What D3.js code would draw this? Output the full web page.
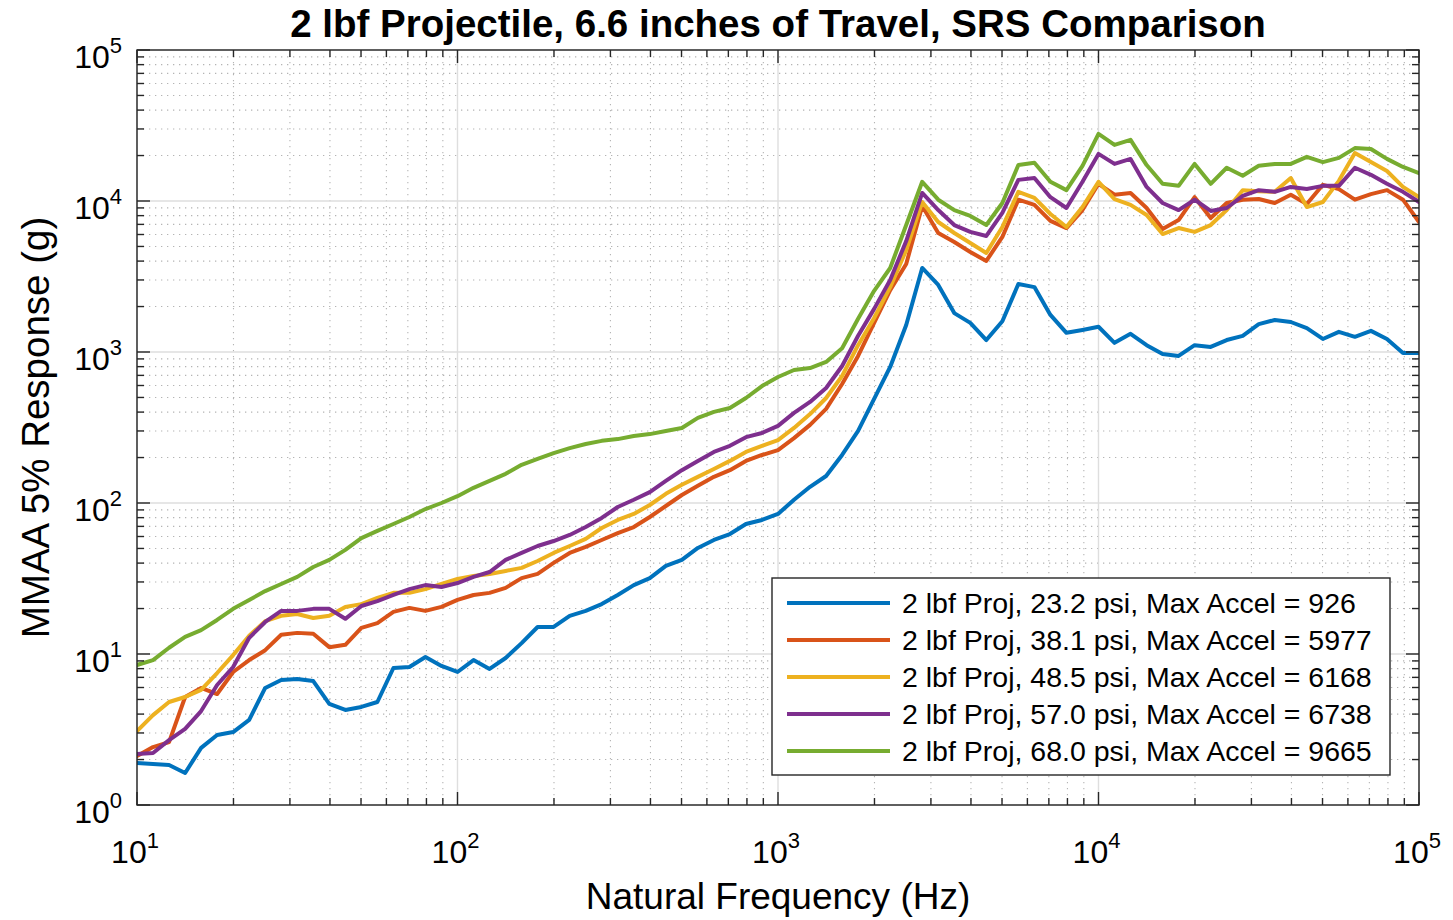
<!DOCTYPE html>
<html>
<head>
<meta charset="utf-8">
<script src="https://cdn.jsdelivr.net/npm/d3@7"></script>
<style>
  body { margin: 0; background: #fff; }
  svg text { font-family: "Liberation Sans", Arial, Helvetica, sans-serif; fill: #000; }
</style>
</head>
<body>
<svg id="chart" width="1453" height="920"></svg>
<script>
// Natural frequencies (Hz), 1/20-decade spacing
const freqHz = [
  10, 11.22, 12.59, 14.13, 15.85, 17.78, 19.95, 22.39, 25.12, 28.18,
  31.62, 35.48, 39.81, 44.67, 50.12, 56.23, 63.10, 70.79, 79.43, 89.13,
  100, 112.2, 125.9, 141.3, 158.5, 177.8, 199.5, 223.9, 251.2, 281.8,
  316.2, 354.8, 398.1, 446.7, 501.2, 562.3, 631.0, 707.9, 794.3, 891.3,
  1000, 1122, 1259, 1413, 1585, 1778, 1995, 2239, 2512, 2818,
  3162, 3548, 3981, 4467, 5012, 5623, 6310, 7079, 7943, 8913,
  10000, 11220, 12590, 14130, 15850, 17780, 19950, 22390, 25120, 28180,
  31620, 35480, 39810, 44670, 50120, 56230, 63100, 70790, 79430, 89130,
  100000
];

// MMAA 5% response (g) for each shot
const srs232 = [
  1.90, 1.87, 1.84, 1.63, 2.39, 2.91, 3.04, 3.66, 5.96, 6.73,
  6.83, 6.62, 4.67, 4.26, 4.46, 4.81, 8.08, 8.20, 9.55, 8.33,
  7.60, 9.12, 7.96, 9.41, 11.8, 15.1, 15.1, 17.9, 19.3, 21.4,
  24.6, 28.6, 31.8, 38.3, 42.0, 50.4, 56.9, 62.3, 72.6, 77.2,
  84.6, 105, 128, 151, 208, 300, 489, 796, 1510, 3600,
  2780, 1810, 1560, 1200, 1600, 2820, 2690, 1760, 1340, 1400,
  1470, 1150, 1320, 1110, 970, 942, 1110, 1080, 1200, 1280,
  1530, 1630, 1580, 1440, 1220, 1360, 1260, 1380, 1220, 985,
  985
];
const srs381 = [
  2.11, 2.42, 2.61, 5.19, 5.96, 5.43, 7.60, 9.12, 10.6, 13.4,
  13.8, 13.6, 11.1, 11.5, 14.9, 16.0, 19.0, 20.2, 19.3, 20.5,
  22.8, 24.6, 25.4, 27.4, 31.8, 33.9, 40.1, 46.7, 51.2, 56.9,
  63.2, 69.3, 80.8, 95.5, 113, 130, 149, 165, 190, 208,
  224, 269, 329, 420, 614, 942, 1560, 2570, 3830, 9270,
  6140, 5350, 4590, 4010, 5780, 10200, 9420, 7380, 6620, 8710,
  13000, 11000, 11300, 8990, 6530, 7480, 10600, 7710, 9700, 10200,
  10300, 9700, 11000, 9550, 12800, 12000, 10200, 11100, 11800, 10200,
  7260
];
const srs485 = [
  3.09, 3.94, 4.81, 5.19, 5.78, 7.48, 9.84, 13.2, 16.5, 17.9,
  18.4, 17.3, 17.9, 20.5, 21.4, 23.5, 25.4, 25.4, 26.9, 29.1,
  31.4, 32.9, 33.9, 35.5, 37.2, 41.3, 46.7, 51.9, 57.8, 68.3,
  77.2, 84.6, 97.0, 115, 132, 149, 168, 190, 218, 239,
  261, 314, 388, 496, 694, 1110, 1680, 2690, 4730, 9850,
  7260, 6140, 5270, 4530, 6730, 11500, 10500, 8200, 6730, 9120,
  13400, 10300, 9420, 8070, 6040, 6620, 6240, 6930, 8710, 11800,
  11600, 11500, 14200, 9120, 9850, 13600, 20800, 18100, 15800, 12400,
  10600
];
const srs570 = [
  2.18, 2.21, 2.69, 3.19, 4.19, 6.23, 8.20, 12.8, 16.3, 19.3,
  19.3, 19.9, 19.9, 17.1, 20.8, 22.4, 24.6, 26.9, 28.6, 27.8,
  29.5, 32.4, 34.9, 42.0, 46.7, 51.9, 56.0, 61.4, 69.3, 79.6,
  94.1, 105, 118, 140, 165, 190, 218, 239, 273, 291,
  324, 395, 467, 578, 808, 1280, 1930, 3000, 5430, 11300,
  8710, 6930, 6240, 5870, 8340, 13800, 14200, 10600, 8990, 13400,
  20500, 17600, 19000, 12400, 9700, 8710, 10200, 8590, 8990, 10800,
  11800, 11500, 12400, 12000, 12600, 12600, 16600, 14900, 13000, 11500,
  9850
];
const srs680 = [
  8.46, 9.12, 11.0, 13.0, 14.4, 16.8, 19.9, 22.8, 26.1, 29.1,
  32.4, 37.7, 42.0, 48.9, 58.6, 65.3, 72.6, 80.8, 91.2, 100,
  111, 126, 140, 156, 179, 196, 214, 231, 246, 258,
  265, 278, 286, 300, 314, 366, 401, 426, 496, 595,
  683, 760, 783, 859, 1060, 1660, 2540, 3600, 6930, 13400,
  10200, 8710, 7960, 6930, 9700, 17300, 17900, 13400, 11800, 17100,
  27800, 23500, 25400, 17300, 13000, 12600, 17600, 13000, 16600, 14700,
  17100, 17600, 17600, 19600, 18100, 19300, 22400, 22100, 19000, 16800,
  15300
];

const seriesValues = [srs232, srs381, srs485, srs570, srs680];
const seriesNames = [
  "2 lbf Proj, 23.2 psi, Max Accel = 926",
  "2 lbf Proj, 38.1 psi, Max Accel = 5977",
  "2 lbf Proj, 48.5 psi, Max Accel = 6168",
  "2 lbf Proj, 57.0 psi, Max Accel = 6738",
  "2 lbf Proj, 68.0 psi, Max Accel = 9665"
];
const seriesColors = ["#0072BD", "#D95319", "#EDB120", "#7E2F8E", "#77AC30"];

const xTickExponents = [1, 2, 3, 4, 5];
const yTickExponents = [0, 1, 2, 3, 4, 5];

const titleText = "2 lbf Projectile, 6.6 inches of Travel, SRS Comparison";
const xLabelText = "Natural Frequency (Hz)";
const yLabelText = "MMAA 5% Response (g)";

// ---- layout ----
const plot = { left: 137, right: 1419, top: 50, bottom: 805 };
const axisColor = "#262626";

const svg = d3.select("#chart");

const x = d3.scaleLog().domain([10, 1e5]).range([plot.left, plot.right]);
const y = d3.scaleLog().domain([1, 1e5]).range([plot.bottom, plot.top]);

const isDecade = v => Math.abs(Math.log10(v) - Math.round(Math.log10(v))) < 1e-9;
const xAll = x.ticks();
const yAll = y.ticks();
const xMinor = xAll.filter(v => !isDecade(v));
const yMinor = yAll.filter(v => !isDecade(v));
const xMajor = xTickExponents.map(e => Math.pow(10, e));
const yMajor = yTickExponents.map(e => Math.pow(10, e));

// ---- grid ----
const grid = svg.append("g");
grid.selectAll(".gxm").data(xMinor).join("line")
  .attr("x1", d => x(d)).attr("x2", d => x(d))
  .attr("y1", plot.top).attr("y2", plot.bottom)
  .attr("stroke", "#b4b4b4").attr("stroke-width", 1.1)
  .attr("stroke-dasharray", "1.3 4.7");
grid.selectAll(".gym").data(yMinor).join("line")
  .attr("y1", d => y(d)).attr("y2", d => y(d))
  .attr("x1", plot.left).attr("x2", plot.right)
  .attr("stroke", "#b4b4b4").attr("stroke-width", 1.1)
  .attr("stroke-dasharray", "1.3 4.7");
grid.selectAll(".gxM").data(xMajor).join("line")
  .attr("x1", d => x(d)).attr("x2", d => x(d))
  .attr("y1", plot.top).attr("y2", plot.bottom)
  .attr("stroke", "#dedede").attr("stroke-width", 1.4);
grid.selectAll(".gyM").data(yMajor).join("line")
  .attr("y1", d => y(d)).attr("y2", d => y(d))
  .attr("x1", plot.left).attr("x2", plot.right)
  .attr("stroke", "#dedede").attr("stroke-width", 1.4);

// ---- data lines ----
svg.append("clipPath").attr("id", "plotClip")
  .append("rect")
  .attr("x", plot.left).attr("y", plot.top)
  .attr("width", plot.right - plot.left).attr("height", plot.bottom - plot.top);

const line = d3.line()
  .x((d, i) => x(freqHz[i]))
  .y(d => y(d));

svg.append("g").attr("clip-path", "url(#plotClip)")
  .selectAll("path").data(seriesValues).join("path")
  .attr("d", d => line(d))
  .attr("fill", "none")
  .attr("stroke", (d, i) => seriesColors[i])
  .attr("stroke-width", 4)
  .attr("stroke-linejoin", "round")
  .attr("stroke-linecap", "round");

// ---- box and inward ticks ----
const axes = svg.append("g");
axes.append("rect")
  .attr("x", plot.left).attr("y", plot.top)
  .attr("width", plot.right - plot.left).attr("height", plot.bottom - plot.top)
  .attr("fill", "none").attr("stroke", axisColor).attr("stroke-width", 1.4);

const majorLen = 13, minorLen = 7;
const xTicks = xAll.map(v => ({ v, len: isDecade(v) ? majorLen : minorLen }));
const yTicks = yAll.map(v => ({ v, len: isDecade(v) ? majorLen : minorLen }));

axes.selectAll(".tb").data(xTicks).join("line")
  .attr("x1", d => x(d.v)).attr("x2", d => x(d.v))
  .attr("y1", plot.bottom).attr("y2", d => plot.bottom - d.len)
  .attr("stroke", axisColor).attr("stroke-width", 1.4);
axes.selectAll(".tt").data(xTicks).join("line")
  .attr("x1", d => x(d.v)).attr("x2", d => x(d.v))
  .attr("y1", plot.top).attr("y2", d => plot.top + d.len)
  .attr("stroke", axisColor).attr("stroke-width", 1.4);
axes.selectAll(".tl").data(yTicks).join("line")
  .attr("y1", d => y(d.v)).attr("y2", d => y(d.v))
  .attr("x1", plot.left).attr("x2", d => plot.left + d.len)
  .attr("stroke", axisColor).attr("stroke-width", 1.4);
axes.selectAll(".tr").data(yTicks).join("line")
  .attr("y1", d => y(d.v)).attr("y2", d => y(d.v))
  .attr("x1", plot.right).attr("x2", d => plot.right - d.len)
  .attr("stroke", axisColor).attr("stroke-width", 1.4);

// ---- tick labels (10 with superscript exponent) ----
function powerLabel(sel, exp) {
  sel.append("tspan").text("10").attr("font-size", 32);
  sel.append("tspan").text(exp).attr("font-size", 22).attr("dy", -15);
}
svg.append("g").selectAll("text").data(xTickExponents).join("text")
  .attr("x", e => x(Math.pow(10, e)) - 2)
  .attr("y", plot.bottom + 58)
  .attr("text-anchor", "middle")
  .attr("fill", "#1a1a1a")
  .each(function (e) { powerLabel(d3.select(this), e); });

svg.append("g").selectAll("text").data(yTickExponents).join("text")
  .attr("x", plot.left - 15)
  .attr("y", e => y(Math.pow(10, e)) + 18)
  .attr("text-anchor", "end")
  .attr("fill", "#1a1a1a")
  .each(function (e) { powerLabel(d3.select(this), e); });

// ---- title and axis labels ----
svg.append("text")
  .attr("x", (plot.left + plot.right) / 2).attr("y", 37)
  .attr("text-anchor", "middle")
  .attr("font-size", 38.5).attr("font-weight", "bold")
  .text(titleText);

svg.append("text")
  .attr("x", (plot.left + plot.right) / 2).attr("y", 909)
  .attr("text-anchor", "middle")
  .attr("font-size", 37).attr("fill", "#1a1a1a")
  .text(xLabelText);

svg.append("text")
  .attr("transform", `translate(49, ${(plot.top + plot.bottom) / 2}) rotate(-90)`)
  .attr("text-anchor", "middle")
  .attr("font-size", 38.5).attr("fill", "#1a1a1a")
  .text(yLabelText);

// ---- legend ----
const legend = { x: 772, y: 578, w: 618, h: 197, rowH: 37, firstRow: 25 };
const lg = svg.append("g");
lg.append("rect")
  .attr("x", legend.x).attr("y", legend.y)
  .attr("width", legend.w).attr("height", legend.h)
  .attr("fill", "#fff").attr("stroke", axisColor).attr("stroke-width", 1.4);
const rows = lg.selectAll("g").data(seriesNames).join("g")
  .attr("transform", (d, i) => `translate(${legend.x}, ${legend.y + legend.firstRow + i * legend.rowH})`);
rows.append("line")
  .attr("x1", 15).attr("x2", 118).attr("y1", 0).attr("y2", 0)
  .attr("stroke", (d, i) => seriesColors[i]).attr("stroke-width", 4);
rows.append("text")
  .attr("x", 130).attr("y", 10)
  .attr("font-size", 28.5).attr("fill", "#000")
  .text(d => d);
</script>
</body>
</html>
